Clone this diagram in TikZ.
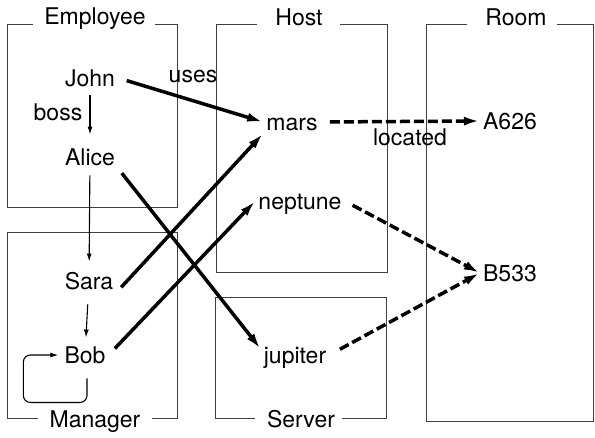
\documentclass[tikz,border=0pt]{standalone}
\usepackage{fontspec}
\setmainfont{TeX Gyre Heros}
\usepackage{tikz}
\usetikzlibrary{calc}
\usetikzlibrary{arrows.meta}

\begin{document}
\begin{tikzpicture}[x=1pt, y=-1pt,
    txt/.style={font=\fontsize{23}{27}\selectfont, inner sep=3pt, text height=16.5pt, text depth=0pt},
    frame/.style={black!75, line width=0.9pt},
    thinarr/.style={-{Latex[length=8pt,width=5pt]}, line width=1.1pt, shorten <=7pt, shorten >=8pt},
    thickarr/.style={-{Latex[length=16pt,width=9pt]}, line width=3.5pt, shorten <=9pt},
    dasharr/.style={thickarr, dash pattern=on 10pt off 4pt}]
\useasboundingbox (0,0) rectangle (595,437);
\draw[frame] (33,24) -- (7,24) -- (7,207) -- (177,207) -- (177,24) -- (155,24)
    (38,418) -- (7,418) -- (7,232) -- (177,232) -- (177,418) -- (152,418)
    (257,24) -- (216,24) -- (216,272) -- (387,272) -- (387,24) -- (340,24)
    (255,418) -- (215,418) -- (215,297) -- (386,297) -- (386,418) -- (342,418)
    (467,24) -- (426,24) -- (426,421) -- (593,421) -- (593,24) -- (557,24);
\draw (95,16) node[txt] (tEmployee) {Employee}
    (95,419) node[txt] (tManager) {Manager}
    (299,17) node[txt] (tHost) {Host}
    (301,419) node[txt] (tServer) {Server}
    (516,17) node[txt] (tRoom) {Room};
\draw (90,78) node[txt] (john) {John}
    (90,157) node[txt] (alice) {Alice}
    (89,281) node[txt] (sara) {Sara}
    (85,355) node[txt] (bob) {Bob}
    (292,122) node[txt] (mars) {mars}
    (300,201) node[txt] (neptune) {neptune}
    (295,355) node[txt] (jupiter) {jupiter}
    (510,121) node[txt] (aroom) {A626}
    (510,273) node[txt] (broom) {B533};
\draw (58,112) node[txt] (boss) {boss}
    (193,74) node[txt] (uses) {uses}
    (410,137) node[txt] (located) {located};
\draw[thinarr, shorten <=6pt, shorten >=11pt] (john) -- (alice);
\draw[thinarr] (alice) -- (sara);
\draw[thinarr, shorten <=12pt, shorten >=6pt] (sara) -- (bob);
\draw[thinarr, shorten <=0pt, shorten >=3pt, rounded corners=7pt] ($(bob.south)+(2,12)$) -- ++(0,24) -| ($(bob.west)+(-38,0)$) -- (bob.west);
\draw[thickarr] (john.east) -- (mars.west);
\draw[thickarr, shorten <=6pt] (alice.south east) -- (jupiter.170);
\draw[thickarr, shorten <=7pt] (sara.south east) -- (mars.south west);
\draw[thickarr] (bob.east) -- (neptune.west);
\draw[dasharr] (mars.east) -- (aroom.west);
\draw[dasharr] (neptune.east) -- (broom.west);
\draw[dasharr, shorten <=12pt] (jupiter.east) -- (broom.west);
\end{tikzpicture}
\end{document}
